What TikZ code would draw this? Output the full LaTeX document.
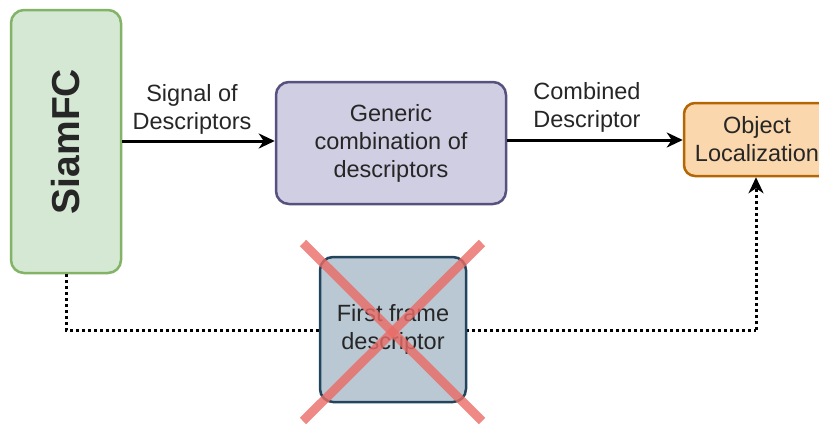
\documentclass[tikz,border=0pt]{standalone}
\usepackage{fontspec}
\setmainfont{Liberation Sans}
\usetikzlibrary{arrows.meta,calc}
\definecolor{greenfill}{HTML}{D5E8D4}
\definecolor{greenline}{HTML}{82B366}
\definecolor{purpfill}{HTML}{D0CEE2}
\definecolor{purpline}{HTML}{56517E}
\definecolor{orfill}{HTML}{FAD7AC}
\definecolor{orline}{HTML}{B46504}
\definecolor{bluefill}{HTML}{BAC8D3}
\definecolor{blueline}{HTML}{23445D}
\definecolor{xred}{HTML}{EA6B66}
\definecolor{txt}{HTML}{262626}
\tikzset{
  blk/.style={draw, rounded corners=13pt, line width=2.5pt, align=center, text=txt,
    font=\fontsize{23.5}{28}\selectfont, inner sep=0pt},
  lbl/.style={align=center, text=txt, font=\fontsize{23.5}{28}\selectfont, inner sep=0pt},
  arr/.style={line width=3pt, -{Stealth[length=16pt,width=15pt,inset=5pt]}},
  dotline/.style={line width=3pt, dash pattern=on 3pt off 3pt},
  cross/.style={line width=9pt, xred, opacity=0.8}
}
\begin{document}
\begin{tikzpicture}[x=1pt,y=-1pt]
\useasboundingbox (0,0) rectangle (819,424);
\clip (0,0) rectangle (819,424);
\node[blk, fill=greenfill, draw=greenline, minimum width=110pt, minimum height=263pt] (siam) at (66,141.5) {};
\node[rotate=90, text=txt, font=\fontsize{39}{44}\selectfont\bfseries, inner sep=0pt] (siamt) at (siam.center) {SiamFC};
\node[blk, fill=purpfill, draw=purpline, minimum width=230pt, minimum height=122pt] (gen) at (391,143) {Generic\\combination of\\descriptors};
\node[blk, fill=orfill, draw=orline, minimum width=146pt, minimum height=73pt, rounded corners=11pt] (obj) at (757,139.5) {Object\\Localization};
\draw[arr] (siam.east |- 0,141) -- (gen.west |- 0,141);
\draw[arr] (gen.east |- 0,140) -- (obj.west |- 0,140);
\node[lbl] (l1) at (192,109) {Signal of\\Descriptors};
\node[lbl] (l2) at (587,107) {Combined\\Descriptor};
\coordinate (turn) at (756,330);
\draw[dotline] (siam.south) |- (turn);
\draw[dotline, -{Stealth[length=16pt,width=15pt,inset=5pt]}] (turn) -- (obj.south -| turn);
\node[blk, fill=bluefill, draw=blueline, minimum width=146pt, minimum height=145pt] (ff) at (393,329.5) {First frame\\descriptor};
\draw[cross] (303,243) -- (482,421);
\draw[cross] (482,243) -- (303,421);
\end{tikzpicture}
\end{document}
